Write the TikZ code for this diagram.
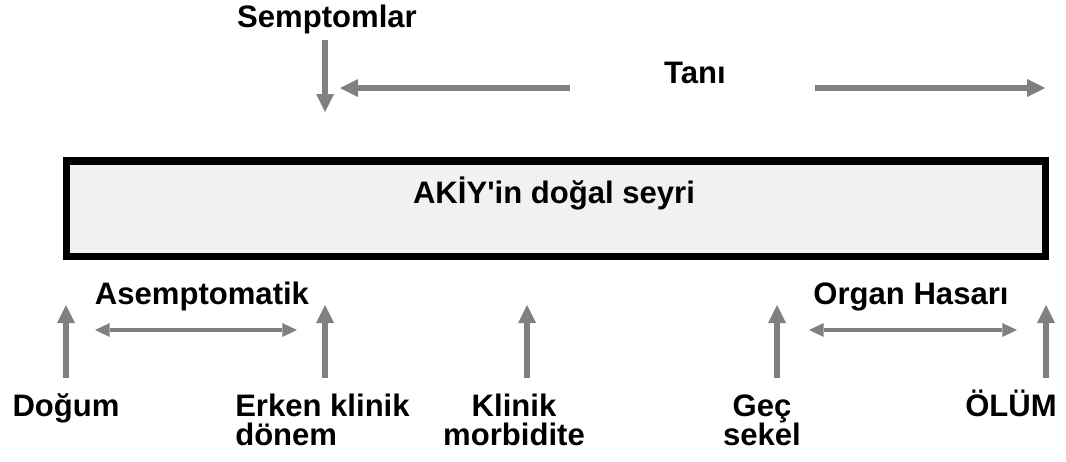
\documentclass[tikz,border=0pt]{standalone}
\usepackage{fontspec}
\setmainfont{Liberation Sans}[Ligatures=TeXOff]
\usetikzlibrary{arrows.meta}
\definecolor{okgri}{RGB}{128,128,128}
\definecolor{kutugri}{RGB}{241,241,241}
\newcommand\sikisatir{\lineskiplimit=-50pt\relax}

\begin{document}
\begin{tikzpicture}[x=.75pt,y=-.75pt,
  lbl/.style={font=\bfseries\fontsize{23.3}{21.5}\selectfont\sikisatir,inner sep=0pt,anchor=base},
  ok/.style={draw=okgri,line width=4.6pt,-{Triangle[length=13.5pt,width=13.5pt,line width=0pt]}},
  cift/.style={draw=okgri,line width=3pt,{Triangle[length=11pt,width=10.5pt,line width=0pt]}-{Triangle[length=11pt,width=10.5pt,line width=0pt]}},
  seyirbox/.style={draw=black,line width=5.6pt,fill=kutugri,minimum width=733.9pt,minimum height=71.6pt,inner sep=0pt}]
\useasboundingbox (0,0) rectangle (1066,461);

\node[seyirbox] (seyir) at (556,208.5) {};
\node[lbl] (seyirlbl) at (554,203) {AKİY'in doğal seyri};

% ust kisim
\node[lbl] (semptom) at (327,27) {Semptomlar};
\node[lbl] (tani) at (695,83) {Tanı};

\coordinate (s1) at (325,40);
\coordinate (s2) at (325,112);
\draw[ok] (s1) -- (s2);

\coordinate (t0) at (570,88);
\coordinate (t1) at (340,88);
\coordinate (t2) at (815,88);
\coordinate (t3) at (1045,88);
\draw[ok] (t0) -- (t1);
\draw[ok] (t2) -- (t3);

% alt kisim
\foreach \n/\x in {dogum/66, erken/325, klinik/527, gec/777, olum/1046}{
  \coordinate (\n-a) at (\x,378);
  \coordinate (\n-b) at (\x,305);
  \draw[ok] (\n-a) -- (\n-b);
}

\node[lbl] (asempt) at (202,304) {Asemptomatik};
\node[lbl] (organ) at (911,304) {Organ Hasarı};

\coordinate (as1) at (95,330);
\coordinate (as2) at (297,330);
\coordinate (oh1) at (809,330);
\coordinate (oh2) at (1017,330);
\draw[cift] (as1) -- (as2);
\draw[cift] (oh1) -- (oh2);

% iki satirli etiketlerde base = son satir
\node[lbl] (dogumlbl) at (66,416.5) {Doğum};
\node[lbl,anchor=base west,align=left] (erkenlbl) at (235,445) {Erken klinik\\ dönem};
\node[lbl,align=center] (kliniklbl) at (514,445) {Klinik\\ morbidite};
\node[lbl,align=center] (geclbl) at (762,445) {Geç\\ sekel};
\node[lbl] (olumlbl) at (1011,416.5) {ÖLÜM};
\end{tikzpicture}
\end{document}
